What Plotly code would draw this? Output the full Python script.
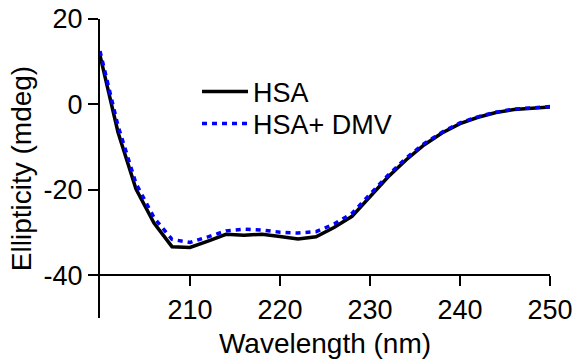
import plotly.graph_objects as go

wavelength = [200, 202, 204, 206, 208, 210, 212, 214, 216, 218, 220, 222, 224,
              226, 228, 230, 232, 234, 236, 238, 240, 242, 244, 246, 248, 250]
hsa = [11.5, -6.5, -19.8, -27.8, -33.3, -33.5, -32.0, -30.4, -30.6, -30.4, -30.9,
       -31.5, -31.0, -28.8, -26.2, -21.5, -17.0, -13.0, -9.5, -6.7, -4.5, -3.0,
       -1.9, -1.2, -0.8, -0.6]
hsa_dmv = [12.5, -5.0, -18.5, -26.5, -31.6, -32.3, -31.0, -29.6, -29.2, -29.4, -29.9,
           -30.1, -29.8, -28.0, -25.5, -21.0, -16.6, -12.6, -9.2, -6.5, -4.3, -2.9,
           -1.8, -1.1, -0.7, -0.5]
x_ticks = [210, 220, 230, 240, 250]
y_ticks = [-40, -20, 0, 20]
y_tick_labels = ["-40", "-20", "0", "20"]

FONT = "Liberation Sans, Arial, sans-serif"

fig = go.Figure()
fig.add_trace(go.Scatter(x=wavelength, y=hsa, mode="lines", name="HSA",
                         line=dict(color="black", width=3.5), legend="legend"))
fig.add_trace(go.Scatter(x=wavelength, y=hsa_dmv, mode="lines", name="HSA+ DMV",
                         line=dict(color="#0000ff", width=3.5, dash="5px,5px"),
                         legend="legend2"))

leg_common = dict(xanchor="left", yanchor="middle", bgcolor="rgba(0,0,0,0)",
                  font=dict(size=27), itemwidth=46, borderwidth=0)

fig.update_layout(
    width=579, height=364,
    margin=dict(l=100, r=29, t=19, b=46),
    paper_bgcolor="white", plot_bgcolor="white",
    font=dict(family=FONT, size=27, color="black"),
    showlegend=True,
    legend=dict(x=0.2156, y=1 - (92 - 19) / 299, **leg_common),
    legend2=dict(x=0.2156, y=1 - (124 - 19) / 299, **leg_common),
    xaxis=dict(range=[200, 250], anchor="free", position=1/7,
               showline=True, linecolor="black", linewidth=2,
               ticks="outside", ticklen=10, tickwidth=2, tickcolor="black",
               tickvals=x_ticks, showgrid=False, zeroline=False,
               automargin=False, tickfont=dict(size=27),
               ticklabeloverflow="allow",
               title=dict(text="Wavelength (nm)", font=dict(size=28), standoff=9)),
    yaxis=dict(range=[-50, 20], showline=True, linecolor="black", linewidth=2,
               ticks="outside", ticklen=10, tickwidth=2, tickcolor="black",
               tickvals=y_ticks, ticktext=y_tick_labels, tickfont=dict(size=27),
               ticklabeloverflow="allow",
               showgrid=False, zeroline=False, automargin=False,
               title=dict(text="Ellipticity (mdeg)", font=dict(size=28), standoff=4)),
)

fig.write_html("out.html", config={"displayModeBar": False},
               post_script="document.body.style.margin='0';document.body.style.overflow='hidden';")
